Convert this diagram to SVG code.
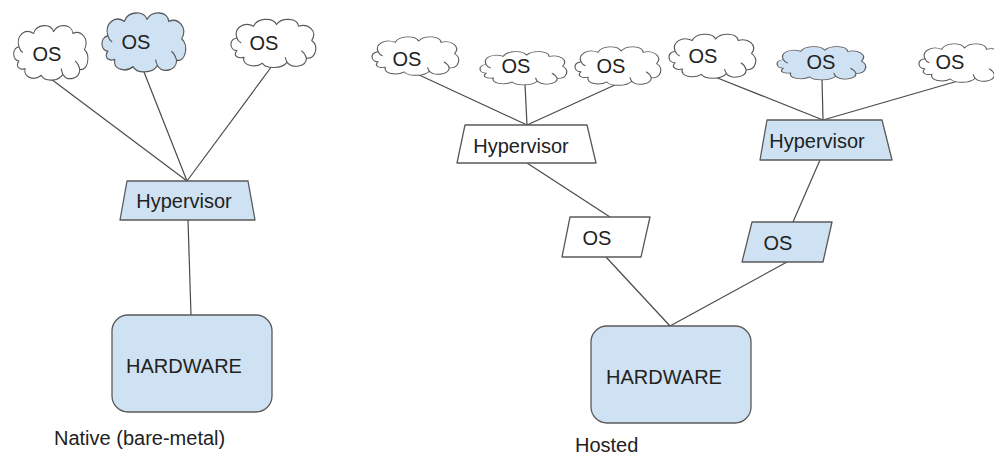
<svg xmlns="http://www.w3.org/2000/svg" xmlns:xlink="http://www.w3.org/1999/xlink" width="994" height="457" viewBox="0 0 994 457">
  <style>
    .bg { fill: #ffffff; }
    .shape { stroke: #595959; stroke-width: 1.3; stroke-linejoin: round; }
    .white { fill: #ffffff; }
    .blue { fill: #cfe2f3; }
    .cloud path { vector-effect: non-scaling-stroke; }
    .curl { fill: none; stroke: #595959; stroke-width: 1.1; vector-effect: non-scaling-stroke; }
    .link { stroke: #4a4a4a; stroke-width: 1.2; fill: none; }
    text { font-family: "Liberation Sans", Arial, sans-serif; font-size: 20px; fill: #222222; }
    .mid { text-anchor: middle; }
  </style>
  <defs>
    <!-- cloud outline drawn in a 100 x 60 box -->
    <g id="cloudShape">
      <path d="M 9,40 C 1,40 -1,27 9,25 C 5,13 17,5 28,11 C 32,1 50,0 54,9 C 60,0 78,1 79,11 C 90,7 101,17 94,28 C 102,34 99,50 88,49 C 88,59 72,62 66,54 C 60,62 42,62 38,55 C 30,61 14,58 17,48 C 10,50 4,46 9,40 Z"/>
    </g>
    <g id="cloudCurls">
      <path class="curl" d="M 9,25 C 10,28 12,30 14,31"/>
      <path class="curl" d="M 88,49 C 87,45 85,42 82,40"/>
      <path class="curl" d="M 66,54 C 65,52 64,50 64,48"/>
    </g>
  </defs>

  <rect class="bg" x="0" y="0" width="994" height="457"/>

  <!-- connectors -->
  <g id="connectors">
    <!-- bare-metal side -->
    <line class="link" x1="51" y1="79" x2="187" y2="181"/>
    <line class="link" x1="144" y1="72" x2="187" y2="181"/>
    <line class="link" x1="272" y1="66" x2="187" y2="181"/>
    <line class="link" x1="188" y1="220" x2="191" y2="315"/>
    <!-- hosted side, left stack -->
    <line class="link" x1="417" y1="74" x2="527" y2="125"/>
    <line class="link" x1="525" y1="84" x2="527" y2="125"/>
    <line class="link" x1="617" y1="84" x2="527" y2="125"/>
    <line class="link" x1="527" y1="163" x2="610" y2="217"/>
    <line class="link" x1="606" y1="257" x2="670" y2="326"/>
    <!-- hosted side, right stack -->
    <line class="link" x1="715" y1="77" x2="823" y2="120"/>
    <line class="link" x1="822" y1="79" x2="823" y2="120"/>
    <line class="link" x1="958" y1="81" x2="823" y2="120"/>
    <line class="link" x1="820" y1="160" x2="793" y2="222"/>
    <line class="link" x1="787" y1="262" x2="670" y2="326"/>
  </g>

  <!-- ===== Native (bare-metal) ===== -->
  <g id="native-os-1" class="cloud">
    <g class="shape white" transform="translate(12,23) scale(0.77,0.95)">
      <use xlink:href="#cloudShape"/><use xlink:href="#cloudCurls"/>
    </g>
    <text class="mid" x="47" y="61">OS</text>
  </g>
  <g id="native-os-2" class="cloud">
    <g class="shape blue" transform="translate(100,10) scale(0.87,1.03)">
      <use xlink:href="#cloudShape"/><use xlink:href="#cloudCurls"/>
    </g>
    <text class="mid" x="136" y="49">OS</text>
  </g>
  <g id="native-os-3" class="cloud">
    <g class="shape white" transform="translate(229,17) scale(0.88,0.84)">
      <use xlink:href="#cloudShape"/><use xlink:href="#cloudCurls"/>
    </g>
    <text class="mid" x="264" y="50">OS</text>
  </g>

  <g id="native-hypervisor">
    <polygon class="shape blue" points="127,181 248,181 255,220 120,220"/>
    <text class="mid" x="184" y="208">Hypervisor</text>
  </g>

  <g id="native-hardware">
    <rect class="shape blue" x="112" y="315" width="160" height="97" rx="16" ry="16"/>
    <text class="mid" x="184" y="373">HARDWARE</text>
  </g>

  <g id="native-label">
    <text x="54" y="445">Native (bare-metal)</text>
  </g>

  <!-- ===== Hosted ===== -->
  <g id="hosted-os-a" class="cloud">
    <g class="shape white" transform="translate(370,35) scale(0.90,0.67)">
      <use xlink:href="#cloudShape"/><use xlink:href="#cloudCurls"/>
    </g>
    <text class="mid" x="407" y="66">OS</text>
  </g>
  <g id="hosted-os-b" class="cloud">
    <g class="shape white" transform="translate(478,50) scale(0.90,0.58)">
      <use xlink:href="#cloudShape"/><use xlink:href="#cloudCurls"/>
    </g>
    <text class="mid" x="516" y="73">OS</text>
  </g>
  <g id="hosted-os-c" class="cloud">
    <g class="shape white" transform="translate(573,45) scale(0.89,0.67)">
      <use xlink:href="#cloudShape"/><use xlink:href="#cloudCurls"/>
    </g>
    <text class="mid" x="611" y="73">OS</text>
  </g>
  <g id="hosted-os-d" class="cloud">
    <g class="shape white" transform="translate(667,32) scale(0.90,0.77)">
      <use xlink:href="#cloudShape"/><use xlink:href="#cloudCurls"/>
    </g>
    <text class="mid" x="703" y="63">OS</text>
  </g>
  <g id="hosted-os-e" class="cloud">
    <g class="shape blue" transform="translate(775,45) scale(0.92,0.58)">
      <use xlink:href="#cloudShape"/><use xlink:href="#cloudCurls"/>
    </g>
    <text class="mid" x="821" y="69">OS</text>
  </g>
  <g id="hosted-os-f" class="cloud">
    <g class="shape white" transform="translate(917,42) scale(0.88,0.67)">
      <use xlink:href="#cloudShape"/><use xlink:href="#cloudCurls"/>
    </g>
    <text class="mid" x="950" y="69">OS</text>
  </g>

  <g id="hosted-hypervisor-1">
    <polygon class="shape white" points="465,125 587,125 596,163 457,163"/>
    <text class="mid" x="521" y="153">Hypervisor</text>
  </g>
  <g id="hosted-hypervisor-2">
    <polygon class="shape blue" points="767,120 882,120 892,160 760,160"/>
    <text class="mid" x="817" y="148">Hypervisor</text>
  </g>

  <g id="hosted-os-1">
    <polygon class="shape white" points="570,217 650,217 641,257 562,257"/>
    <text class="mid" x="597" y="245">OS</text>
  </g>
  <g id="hosted-os-2">
    <polygon class="shape blue" points="752,222 832,222 823,262 742,262"/>
    <text class="mid" x="778" y="250">OS</text>
  </g>

  <g id="hosted-hardware">
    <rect class="shape blue" x="591" y="326" width="160" height="97" rx="16" ry="16"/>
    <text class="mid" x="664" y="384">HARDWARE</text>
  </g>

  <g id="hosted-label">
    <text x="575" y="452">Hosted</text>
  </g>
</svg>
